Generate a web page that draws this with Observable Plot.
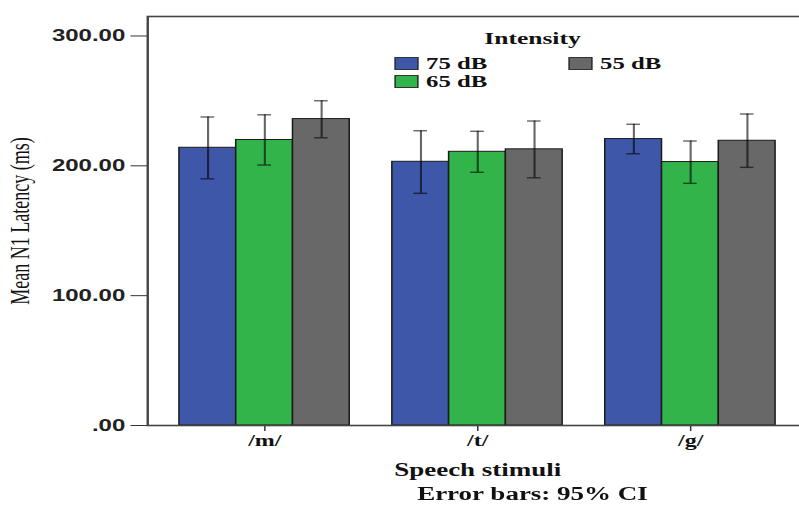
<!DOCTYPE html>
<html><head><meta charset="utf-8">
<script src="https://cdn.jsdelivr.net/npm/d3@7"></script>
<script src="https://cdn.jsdelivr.net/npm/@observablehq/plot@0.6"></script>
<style>
html,body{margin:0;padding:0;background:#fff;overflow:hidden;width:799px;height:512px;}
#wrap{position:relative;width:538px;height:512px;transform:scaleX(1.5);transform-origin:0 0;}
#legend{position:absolute;left:0;top:0;width:538px;height:100px;pointer-events:none;font-family:"Liberation Serif",serif;font-weight:bold;color:#111;}
#legend .title{position:absolute;left:355px;top:30px;transform:translateX(-50%);font-size:17px;line-height:17px;white-space:nowrap;}
#legend .item{position:absolute;height:13px;white-space:nowrap;}
#legend .sw{position:absolute;left:0;top:0;width:16px;height:13px;box-sizing:border-box;border:1px solid #333;}
#legend .lab{position:absolute;left:21px;top:-1.5px;font-size:16.5px;line-height:16px;}
#caption{position:absolute;left:355px;top:482px;transform:translateX(-50%);font-family:"Liberation Serif",serif;font-weight:bold;font-size:18px;line-height:24px;color:#111;white-space:nowrap;}
svg g[aria-label="y-axis tick label"], svg g[aria-label="y-axis tick label"] text{font-family:"Liberation Sans",Arial,sans-serif;font-weight:bold;font-size:16px;fill:#222;}
svg g[aria-label="x-axis tick label"], svg g[aria-label="x-axis tick label"] text{font-family:"Liberation Serif",serif;font-weight:bold;font-size:16px;fill:#111;}
svg g[aria-label="x-axis label"], svg g[aria-label="x-axis label"] text{font-family:"Liberation Serif",serif;font-weight:bold;font-size:18px;fill:#111;}
svg g[aria-label="y-axis label"], svg g[aria-label="y-axis label"] text{font-family:"Liberation Serif",serif;font-weight:normal;font-size:18px;fill:#111;}
</style>
</head><body>
<div id="wrap"><div id="chart"></div><div id="legend"></div><div id="caption"></div></div>
<script>
const stimuli = ["/m/", "/t/", "/g/"];
const intensities = ["75 dB", "65 dB", "55 dB"];
const colors = ["#3E57A8", "#33B44A", "#686868"];
// mean latency per stimulus, one array per intensity
const mean75 = [213.9, 203.1, 220.6];
const mean65 = [219.9, 210.8, 202.9];
const mean55 = [236.0, 212.7, 219.3];
// 95% CI bounds
const lo75 = [190.0, 178.8, 209.3];
const hi75 = [237.6, 227.0, 232.0];
const lo65 = [200.6, 195.0, 186.5];
const hi65 = [239.3, 226.6, 219.1];
const lo55 = [221.6, 190.8, 198.8];
const hi55 = [250.1, 234.5, 239.9];
const yTicks = [0, 100, 200, 300];
const yLabel = "Mean N1 Latency (ms)";
const xLabel = "Speech stimuli";
const legendTitle = "Intensity";
const captionText = "Error bars: 95% CI";

// grouped-bar layout in category units (like a band scale: inner padding 0.2)
const groupWidth = 0.8;
const barWidth = groupWidth / intensities.length;
const capHalf = 0.032;

const series = [[mean75, lo75, hi75], [mean65, lo65, hi65], [mean55, lo55, hi55]];
const data = [];
stimuli.forEach((s, i) => intensities.forEach((k, j) => {
  const left = i - groupWidth / 2 + j * barWidth;
  data.push({stimulus: s, intensity: k, x1: left, x2: left + barWidth, xc: left + barWidth / 2,
             mean: series[j][0][i], lo: series[j][1][i], hi: series[j][2][i]});
}));

const whisker = {stroke: "#000", strokeOpacity: 0.6, strokeWidth: 1.4};
const chart = Plot.plot({
  width: 538, height: 482,
  marginLeft: 98, marginRight: 0, marginTop: 16, marginBottom: 57,
  style: {color: "#333", background: "#fff"},
  x: {type: "linear", domain: [-0.55, stimuli.length - 1 + 0.55], ticks: d3.range(stimuli.length), tickFormat: i => stimuli[i],
      label: xLabel, labelAnchor: "center", labelArrow: "none", tickSize: 6, tickPadding: 3, labelOffset: 50},
  y: {domain: [0, 315], ticks: yTicks, tickFormat: d => d === 0 ? ".00" : d3.format(".2f")(d), tickSize: 11, tickPadding: 4,
      label: yLabel, labelAnchor: "center", labelArrow: "none", labelOffset: 92},
  color: {domain: intensities, range: colors},
  marks: [
    Plot.rectY(data, {x1: "x1", x2: "x2", y1: 0, y2: "mean", fill: "intensity", stroke: "#1a1a1a", strokeWidth: 1}),
    Plot.ruleX(data, {x: "xc", y1: "lo", y2: "hi", ...whisker}),
    Plot.ruleY(data, {x1: d => d.xc - capHalf, x2: d => d.xc + capHalf, y: "hi", ...whisker}),
    Plot.ruleY(data, {x1: d => d.xc - capHalf, x2: d => d.xc + capHalf, y: "lo", ...whisker}),
    Plot.frame({stroke: "#444", strokeWidth: 1.6})
  ]
});
document.getElementById("chart").appendChild(chart);

// legend
const lg = d3.select("#legend");
lg.append("div").attr("class", "title").text(legendTitle);
const colX = [263, 379], rowY = [57, 75];
intensities.forEach((k, j) => {
  const it = lg.append("div").attr("class", "item")
    .style("left", colX[Math.floor(j / 2)] + "px").style("top", rowY[j % 2] + "px");
  it.append("div").attr("class", "sw").style("background", colors[j]);
  it.append("div").attr("class", "lab").text(k);
});
d3.select("#caption").text(captionText);
</script>
</body></html>
